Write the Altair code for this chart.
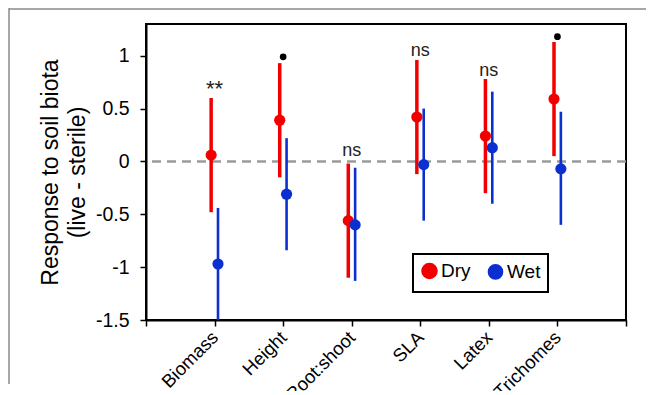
import altair as alt
import pandas as pd

categories = ["Biomass", "Height", "Root:shoot", "SLA", "Latex", "Trichomes"]
dry_mean = [0.06, 0.39, -0.56, 0.42, 0.24, 0.59]
dry_low = [-0.48, -0.15, -1.10, -0.12, -0.30, 0.05]
dry_high = [0.60, 0.93, -0.02, 0.96, 0.78, 1.13]
wet_mean = [-0.97, -0.31, -0.60, -0.03, 0.13, -0.07]
wet_low = [-1.50, -0.84, -1.13, -0.56, -0.40, -0.60]
wet_high = [-0.44, 0.22, -0.06, 0.50, 0.66, 0.47]
groups = ["Dry", "Wet"]
colors = ["#f20000", "#0c2fd0"]

annot_text = ["ns", "ns", "ns"]
annot_cat = [3, 4, 5]
annot_y = [0.05, 1.0, 0.81]
star_text = ["**"]
star_cat = [1]
star_y = [0.62]
dot_cat = [2, 6]
dot_y = [0.99, 1.18]

y_ticks = [-1.5, -1, -0.5, 0, 0.5, 1]

rows = []
for i, c in enumerate(categories):
    rows.append({"cat": c, "pos": i + 1, "group": "Dry", "mean": dry_mean[i], "lo": dry_low[i], "hi": dry_high[i]})
    rows.append({"cat": c, "pos": i + 1, "group": "Wet", "mean": wet_mean[i], "lo": wet_low[i], "hi": wet_high[i]})
df = pd.DataFrame(rows)

annot_df = pd.DataFrame({"pos": annot_cat, "y": annot_y, "t": annot_text})
star_df = pd.DataFrame({"pos": star_cat, "y": star_y, "t": star_text})
dot_df = pd.DataFrame({"pos": dot_cat, "y": dot_y})

FONT = "Liberation Sans"

cat_list = "[" + ",".join("'" + c + "'" for c in categories) + "]"
x_label_expr = f"datum.value >= 1 && datum.value <= 6 ? {cat_list}[datum.value - 1] : ''"

x_scale = alt.Scale(domain=[0, 7], nice=False, zero=False)
y_scale = alt.Scale(domain=[-1.5, 1.3], nice=False, zero=False)

x_axis = alt.Axis(values=list(range(0, 8)), labelExpr=x_label_expr, title=None,
                  labelAngle=-45, labelAlign="right", labelBaseline="middle",
                  labelFontSize=18.5, labelPadding=8, tickSize=6, grid=False,
                  labelOverlap=False, labelBound=False, labelFlush=False)
y_axis = alt.Axis(values=y_ticks, labelExpr="'' + datum.value",
                  title=["Response to soil biota", "(live - sterile)"],
                  titleFontSize=23, titleFontWeight="normal", titleLineHeight=27,
                  titlePadding=6, labelFontSize=19.5, labelPadding=11, tickSize=6, grid=False)

color_scale = alt.Scale(domain=groups, range=colors)
legend = alt.Legend(title=None, orient="none", legendX=267, legendY=230,
                    direction="horizontal", symbolType="circle",
                    symbolSize=170, labelFontSize=19, labelFont=FONT,
                    labelColor="black", columnPadding=12, labelOffset=2,
                    padding=7, strokeColor="black", fillColor="white")

base = alt.Chart(df).transform_calculate(
    xp="datum.pos + (datum.group == 'Dry' ? -0.05 : 0.05)"
)

zero_line = alt.Chart(pd.DataFrame({"z": [0]})).mark_rule(
    color="#9a9a9a", strokeDash=[9, 6], strokeWidth=2.5
).encode(y=alt.Y("z:Q", scale=y_scale, axis=y_axis))

bars = base.mark_rule().encode(
    x=alt.X("xp:Q", scale=x_scale, axis=x_axis),
    y=alt.Y("lo:Q", scale=y_scale, axis=y_axis),
    y2="hi:Q",
    color=alt.Color("group:N", scale=color_scale, legend=legend),
    strokeWidth=alt.StrokeWidth("group:N", scale=alt.Scale(domain=groups, range=[3.5, 2.6]), legend=None),
)

points = base.mark_circle(size=125, opacity=1).encode(
    x=alt.X("xp:Q", scale=x_scale, axis=x_axis),
    y=alt.Y("mean:Q", scale=y_scale, axis=y_axis),
    color=alt.Color("group:N", scale=color_scale, legend=legend),
)

annots = alt.Chart(annot_df).mark_text(fontSize=18, font=FONT, color="#222", baseline="alphabetic").encode(
    x=alt.X("pos:Q", scale=x_scale, axis=x_axis),
    y=alt.Y("y:Q", scale=y_scale, axis=y_axis),
    text="t:N",
)

stars = alt.Chart(star_df).mark_text(fontSize=22, font=FONT, color="#222", baseline="alphabetic").encode(
    x=alt.X("pos:Q", scale=x_scale, axis=x_axis),
    y=alt.Y("y:Q", scale=y_scale, axis=y_axis),
    text="t:N",
)

dots = alt.Chart(dot_df).mark_circle(size=45, color="black", opacity=1).encode(
    x=alt.X("pos:Q", scale=x_scale, axis=x_axis),
    y=alt.Y("y:Q", scale=y_scale, axis=y_axis),
)

frame_df = pd.DataFrame({"a": [0]})
frame_left = alt.Chart(frame_df).mark_rule(color="#8a8a8a", strokeWidth=1.5).encode(
    x=alt.value(-137), y=alt.value(-16), y2=alt.value(360)
)
frame_top = alt.Chart(frame_df).mark_rule(color="#8a8a8a", strokeWidth=1.5).encode(
    x=alt.value(-137), x2=alt.value(500), y=alt.value(-15)
)

chart = alt.layer(frame_left, frame_top, zero_line, bars, points, annots, stars, dots).properties(
    width=480, height=296,
    autosize=alt.AutoSizeParams(type="none"),
    padding={"left": 138, "top": 16, "right": 20, "bottom": 71},
).configure_view(
    stroke="black", strokeWidth=2
).configure_axis(
    domainColor="black", domainWidth=2, tickColor="black", tickWidth=1.5,
    labelColor="black", titleColor="black", labelFont=FONT, titleFont=FONT
).configure_legend(
    strokeWidth=2
)

chart.save("out.html", embed_options={"renderer": "svg", "actions": False})
